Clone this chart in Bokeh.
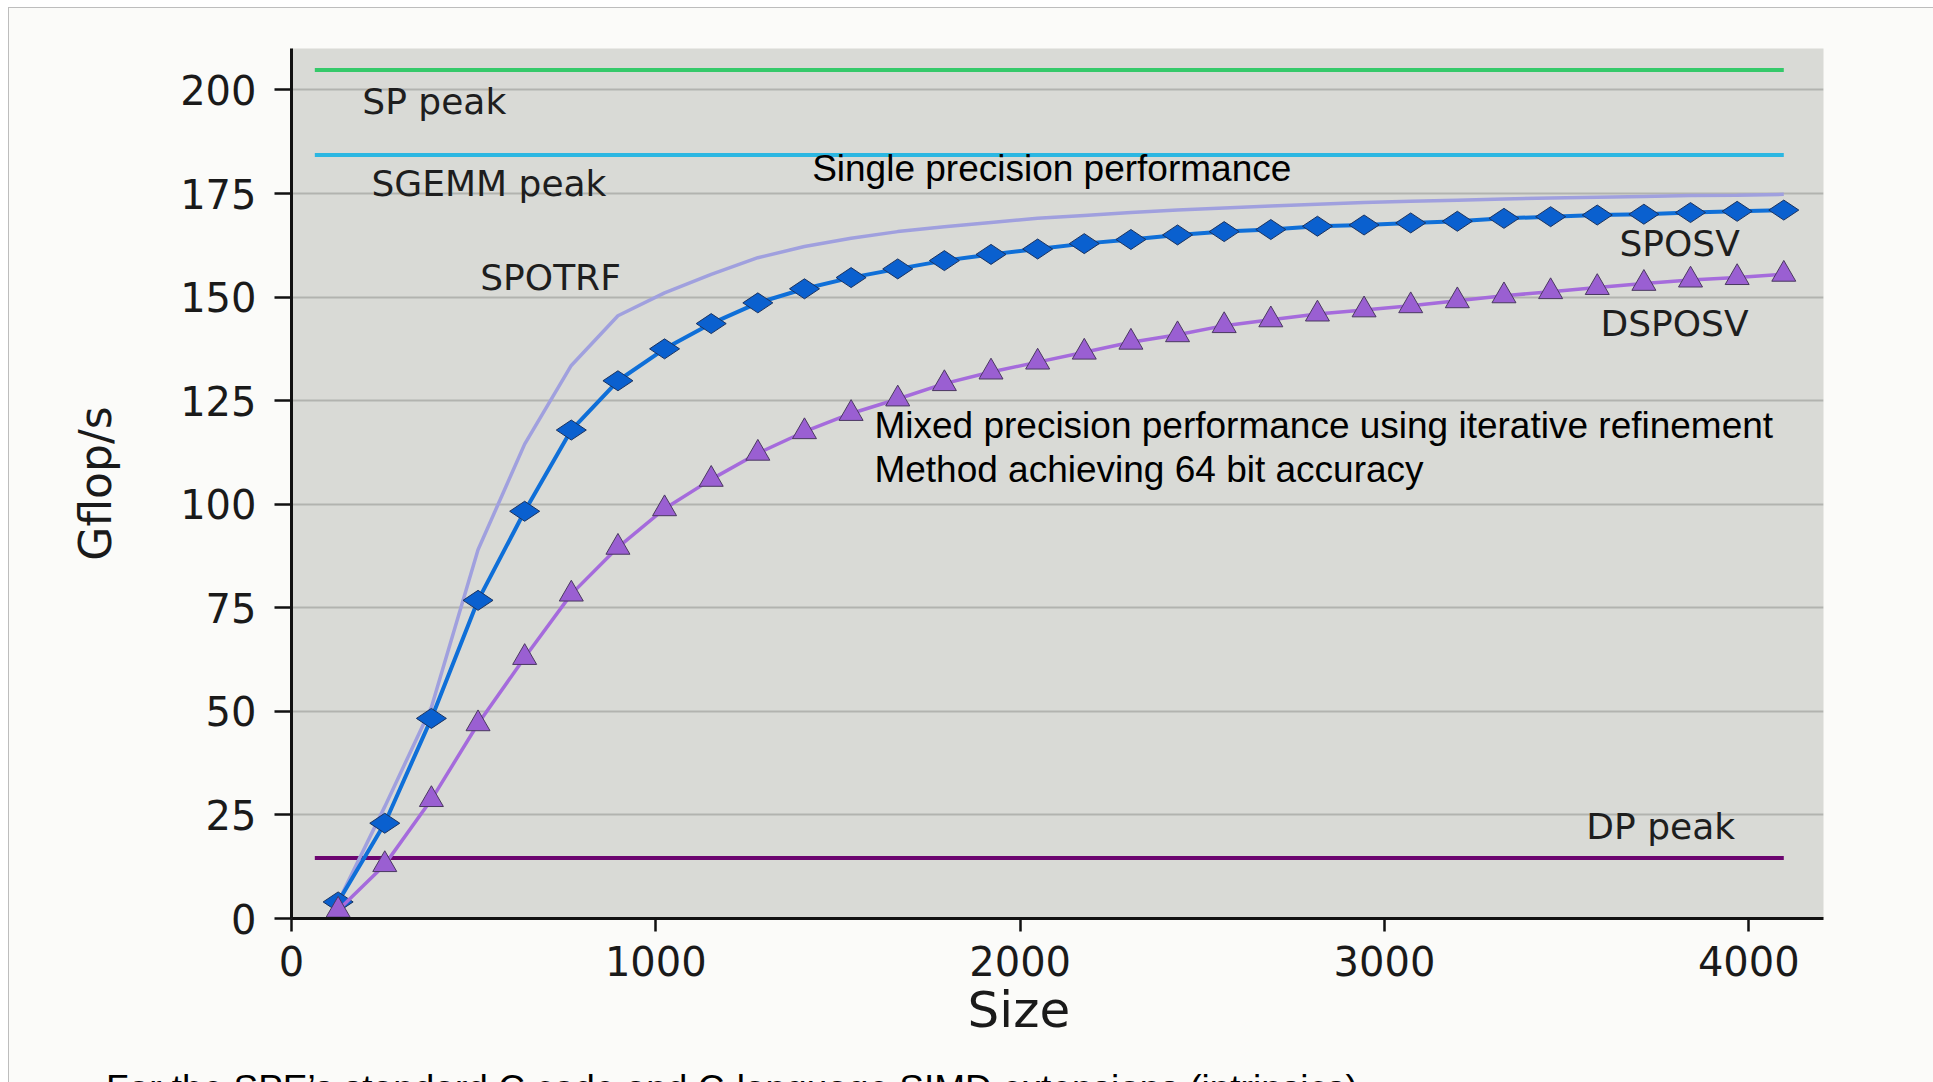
import math
from bokeh.plotting import figure
from bokeh.layouts import column
from bokeh.models import FixedTicker, Range1d, ColumnDataSource, Title, Div
from bokeh.core.properties import value
from bokeh.embed import file_html
from bokeh.resources import INLINE

# ---------------- data ----------------
sizes = [128, 256, 384, 512, 640, 768, 896, 1024, 1152, 1280, 1408, 1536,
         1664, 1792, 1920, 2048, 2176, 2304, 2432, 2560, 2688, 2816, 2944,
         3072, 3200, 3328, 3456, 3584, 3712, 3840, 3968, 4096]

spotrf = [4.0, 27.0, 51.0, 89.0, 114.5, 133.5, 145.5, 151.0, 155.5, 159.5,
          162.2, 164.2, 165.8, 167.0, 168.0, 169.0, 169.7, 170.4, 171.0, 171.5,
          172.0, 172.4, 172.8, 173.1, 173.4, 173.7, 173.9, 174.1, 174.3, 174.5,
          174.6, 174.8]

sposv = [4.0, 23.0, 48.3, 76.8, 98.3, 117.9, 129.8, 137.5, 143.6, 148.6,
         152.0, 154.7, 156.8, 158.8, 160.3, 161.6, 162.9, 163.9, 165.0, 165.8,
         166.3, 167.1, 167.4, 167.9, 168.3, 169.0, 169.4, 169.8, 170.0, 170.4,
         170.7, 171.0]

dsposv = [2.0, 13.0, 28.7, 47.0, 63.0, 78.3, 89.6, 98.9, 106.0, 112.3,
          117.5, 121.9, 125.4, 129.1, 131.9, 134.3, 136.7, 139.1, 140.9, 143.1,
          144.5, 145.9, 146.9, 147.9, 149.1, 150.3, 151.3, 152.3, 153.3, 154.1,
          154.7, 155.5]

peak_names = ["SP peak", "SGEMM peak", "DP peak"]
peak_values = [204.8, 184.3, 14.6]
peak_span = [64, 4096]

series_names = ["SPOTRF", "SPOSV", "DSPOSV"]

y_ticks = [0, 25, 50, 75, 100, 125, 150, 175, 200]
x_ticks = [0, 1000, 2000, 3000, 4000]

x_title = "Size"
y_title = "Gflop/s"
single_note = "Single precision performance"
mixed_note = ["Mixed precision performance using iterative refinement",
              "Method achieving 64 bit accuracy"]
caption = "For the SPE\u2019s standard C code and C-language SIMD extensions (intrinsics)"

# ---------------- main figure ----------------
p = figure(width=1916, height=1049,
           x_range=Range1d(0, 4205), y_range=Range1d(0, 210),
           output_backend="svg", toolbar_location=None,
           min_border_left=282, min_border_right=102,
           min_border_top=40, min_border_bottom=139)

p.background_fill_color = "#d9dad6"
p.border_fill_color = "#fbfbf9"
p.outline_line_color = None

p.xgrid.grid_line_color = None
p.ygrid.grid_line_color = "#b2b3af"
p.ygrid.grid_line_width = 2

p.yaxis.ticker = FixedTicker(ticks=y_ticks)
p.xaxis.ticker = FixedTicker(ticks=x_ticks)
for ax in (p.xaxis[0], p.yaxis[0]):
    ax.axis_line_width = 3
    ax.axis_line_color = "#111111"
    ax.major_tick_line_width = 2.5
    ax.major_tick_line_color = "#111111"
    ax.minor_tick_line_color = None
    ax.major_tick_in = 0
    ax.major_label_text_font = "DejaVu Sans"
    ax.major_label_text_font_size = "40px"
    ax.major_label_text_color = "#1a1a1a"
p.yaxis.major_tick_out = 17
p.xaxis.major_tick_out = 13
p.yaxis.major_label_standoff = 18
p.xaxis.major_label_standoff = 14

p.yaxis.axis_label = y_title
p.yaxis.axis_label_text_font = "DejaVu Sans"
p.yaxis.axis_label_text_font_size = "44px"
p.yaxis.axis_label_text_font_style = "normal"
p.yaxis.axis_label_text_color = "#1a1a1a"
p.yaxis.axis_label_standoff = 56

size_title = Title(text=x_title, align="left", offset=676, standoff=0,
                   text_font="DejaVu Sans", text_font_size="50px",
                   text_font_style="normal", text_color="#1a1a1a")
p.add_layout(size_title, "below")

# peak lines
peak_colors = ["#35c96a", "#2cb7e2", "#6c0570"]
for val, col in zip(peak_values, peak_colors):
    p.line(x=peak_span, y=[val, val], line_color=col, line_width=4)

# curves
p.line(x=sizes, y=spotrf, line_color="#a0a0de", line_width=3.5)
p.line(x=sizes, y=sposv, line_color="#0f6fd8", line_width=4)
p.scatter(x=sizes, y=sposv, marker="diamond", size=30, angle=math.pi / 2,
          fill_color="#0a60cf", line_color="#1b3360", line_width=1)
p.line(x=sizes, y=dsposv, line_color="#a56bdc", line_width=3.5)
p.scatter(x=sizes, y=dsposv, marker="triangle", size=24,
          fill_color="#9a5fd2", line_color="#4a3860", line_width=1)

# series / peak labels
lab_src = ColumnDataSource(dict(
    x=[392, 542, 711, 3810, 3796, 3758],
    y=[197.3, 177.5, 154.8, 163.0, 143.7, 22.2],
    t=[peak_names[0], peak_names[1], series_names[0], series_names[1],
       series_names[2], peak_names[2]]))
p.text(x="x", y="y", text="t", source=lab_src, text_font=value("DejaVu Sans"),
       text_font_size="36px", text_color="#1e1e1e", text_align="center",
       text_baseline="alphabetic")

# notes (Arial-like)
note_src = ColumnDataSource(dict(
    x=[1429, 1600, 1600],
    y=[181.0, 119.1, 108.4],
    t=[single_note] + mixed_note))
p.text(x="x", y="y", text="t", source=note_src,
       text_font=value("Liberation Sans"), text_font_size="37px",
       text_color="#000000", text_align="left", text_baseline="alphabetic")

# ---------------- caption strip (cut off by the window edge) ----------------
cap = Div(text=caption, width=1916, height=25,
          styles={"font-family": "'Liberation Sans', Arial, sans-serif",
                  "font-size": "37px", "color": "#000000",
                  "background-color": "#fbfbf9", "white-space": "nowrap",
                  "overflow": "hidden", "padding-left": "92px",
                  "padding-top": "6px", "box-sizing": "border-box",
                  "line-height": "normal"})

layout = column(p, cap, spacing=0)
layout.margin = (7, 0, 0, 8)
layout.styles = {"border-top": "1px solid #bdbdbd",
                 "border-left": "1px solid #bdbdbd",
                 "border-right": "2px solid #5a5a5a",
                 "background-color": "#fbfbf9"}

open("out.html", "w").write(file_html(layout, INLINE))
